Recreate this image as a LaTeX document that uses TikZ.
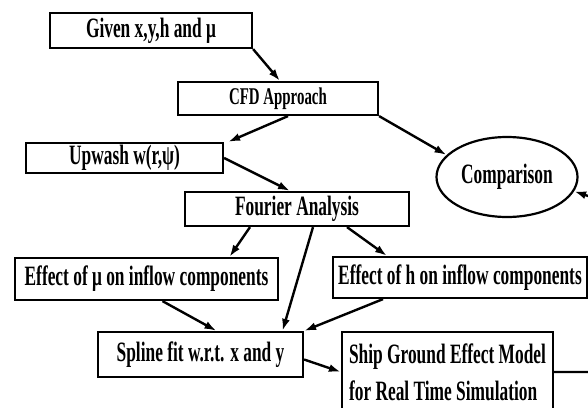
\documentclass[tikz,border=0pt]{standalone}
\usepackage{fontspec}
\setmainfont{Liberation Serif}[FakeStretch=0.62]
\usetikzlibrary{arrows.meta,shapes.geometric}
\tikzset{
  boxnode/.style={draw, line width=2.2pt, rectangle, inner sep=0pt, font=\fontsize{28}{30}\selectfont\bfseries},
  conn/.style={line width=2.4pt, -{Latex[length=12pt,width=8pt]}},
}
\begin{document}
\begin{tikzpicture}[x=1pt,y=-1pt]
\path[use as bounding box, clip] (0,0) rectangle (588,407);
\fill[white] (0,0) rectangle (588,407);
\node[boxnode, minimum width=202pt, minimum height=35pt] (given) at (151,30.5) {Given x,y,h and μ};
\node[boxnode, minimum width=200pt, minimum height=33pt, font=\fontsize{24}{26}\selectfont\bfseries] (cfd) at (278,98.5) {CFD Approach};
\node[boxnode, minimum width=197pt, minimum height=30pt] (upwash) at (124.5,158) {Upwash w(r,ψ)};
\node[boxnode, minimum width=224pt, minimum height=34pt] (fourier) at (297,209) {Fourier Analysis};
\node[draw, line width=2.2pt, ellipse, inner sep=0pt, minimum width=141pt, minimum height=80pt, font=\fontsize{28}{30}\selectfont\bfseries] (comp) at (507,177) {Comparison};
\node[boxnode, minimum width=263pt, minimum height=42pt] (effmu) at (146.5,279) {Effect of μ on inflow components};
\node[boxnode, minimum width=254pt, minimum height=41pt] (effh) at (460,277.5) {Effect of h on inflow components};
\node[boxnode, minimum width=205pt, minimum height=45pt] (spline) at (200.5,354.5) {Spline fit w.r.t. x and y};
\node[boxnode, minimum width=211pt, minimum height=80pt, align=left, font=\fontsize{28}{37}\selectfont\bfseries] (ship) at (447.5,372) {Ship Ground Effect Model\\for Real Time Simulation};
\coordinate (exit) at (600,200);
\draw[conn] (given.south east) -- ([xshift=2pt]cfd.north);
\draw[conn] ([xshift=10pt]cfd.south) -- ([xshift=4pt]upwash.north east);
\draw[conn] (cfd.south east) -- (comp.160);
\draw[conn] (upwash.east) -- ([xshift=-7pt]fourier.north);
\draw[conn] ([xshift=-47pt]fourier.south) -- ([xshift=83pt]effmu.north);
\draw[conn] ([xshift=16pt]fourier.south) -- ([xshift=82pt]spline.north);
\draw[conn] ([xshift=50pt]fourier.south) -- ([xshift=-73pt]effh.north);
\draw[conn] ([xshift=16pt]effmu.south) -- ([xshift=16pt]spline.north);
\draw[conn] ([xshift=-77pt]effh.south) -- (spline.north east);
\draw[conn] ([yshift=-5pt]spline.east) -- (ship.west);
\draw[conn] (ship.east) -| (exit) -- (comp.-12);
\end{tikzpicture}
\end{document}
